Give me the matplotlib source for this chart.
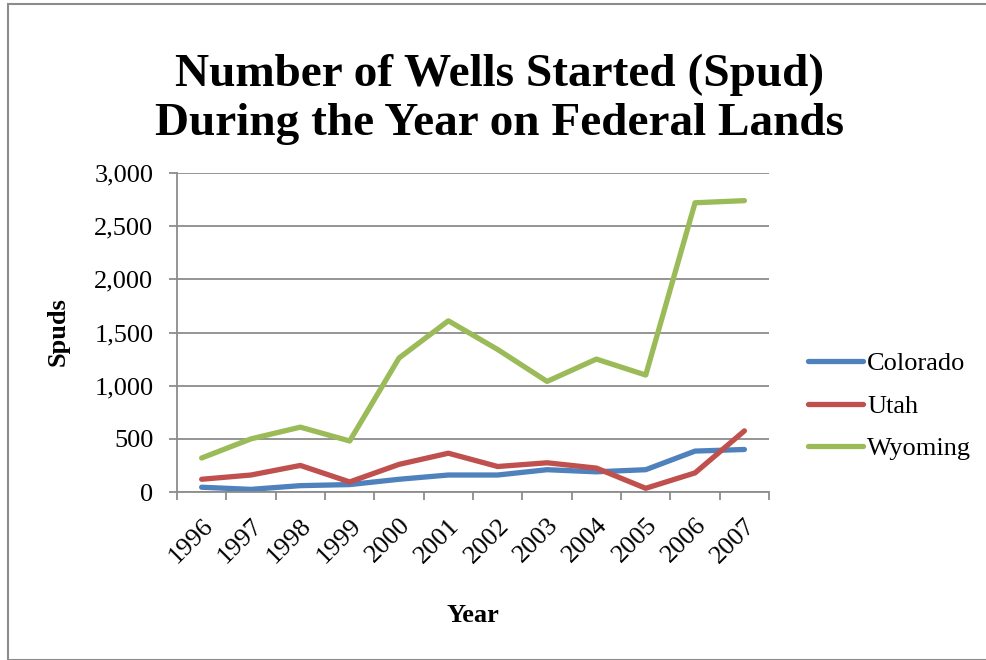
import matplotlib.pyplot as plt
from matplotlib.patches import Rectangle
from matplotlib.ticker import FuncFormatter

years = ["1996", "1997", "1998", "1999", "2000", "2001",
         "2002", "2003", "2004", "2005", "2006", "2007"]
colorado = [45, 25, 60, 70, 120, 160, 160, 210, 190, 210, 385, 400]
utah = [120, 160, 250, 95, 260, 365, 240, 275, 225, 35, 180, 575]
wyoming = [320, 500, 610, 480, 1260, 1610, 1340, 1040, 1250, 1100, 2720, 2740]

plt.rcParams['font.family'] = ['Liberation Serif', 'DejaVu Serif']

fig = plt.figure(figsize=(9.86, 6.6), dpi=100)
fig.patches.append(Rectangle((8 / 986, 0.0), 1.2, 1 - 4 / 660, transform=fig.transFigure,
                             fill=False, edgecolor='#8c8c8c', linewidth=1.5))

ax = fig.add_axes([0.1795, 0.2545, 0.6005, 0.4834])
x = list(range(len(years)))
ax.plot(x, colorado, color='#4F81BD', linewidth=3.8, label='Colorado', solid_capstyle='round')
ax.plot(x, utah, color='#C0504D', linewidth=3.8, label='Utah', solid_capstyle='round')
ax.plot(x, wyoming, color='#9BBB59', linewidth=3.8, label='Wyoming', solid_capstyle='round')

ax.set_xlim(-0.5, len(years) - 0.5)
ax.set_ylim(0, 3000)
ax.set_yticks(range(0, 3001, 500))
ax.yaxis.set_major_formatter(FuncFormatter(lambda v, p: f"{int(v):,}"))
ax.grid(axis='y', color='#8c8c8c', linewidth=1.3)
ax.set_axisbelow(True)

ax.set_xticks(x)
ax.set_xticklabels(years, rotation=45, ha='right', rotation_mode='anchor')
ax.set_xticks([i - 0.5 for i in range(len(years) + 1)], minor=True)
ax.tick_params(axis='x', which='major', length=0, pad=16, labelsize=19)
ax.tick_params(axis='x', which='minor', length=6, color='#8c8c8c', width=1.3)
ax.tick_params(axis='y', length=6, color='#8c8c8c', width=1.3, labelsize=19, pad=11)

for side in ['top', 'right']:
    ax.spines[side].set_visible(False)
for side in ['left', 'bottom']:
    ax.spines[side].set_color('#8c8c8c')
    ax.spines[side].set_linewidth(1.3)

# axis titles placed in figure coordinates
fig.text(58 / 986, 1 - 332 / 660, "Spuds", rotation=90, ha='center', va='center',
         fontsize=19, fontweight='bold')
fig.text(473 / 986, 1 - 615 / 660, "Year", ha='center', va='center',
         fontsize=19, fontweight='bold')

fig.text(0.507, 1 - 99 / 660, "Number of Wells Started (Spud)\nDuring the Year on Federal Lands",
         ha='center', va='center', fontsize=34, fontweight='bold', linespacing=1.22)

ax.legend(loc='center left', bbox_to_anchor=(808 / 986, 1 - 406 / 660),
          bbox_transform=fig.transFigure, frameon=False, fontsize=19,
          borderpad=0, borderaxespad=0,
          handlelength=2.1, labelspacing=0.72, handletextpad=0.15)

fig.savefig("out.png", dpi=100)
